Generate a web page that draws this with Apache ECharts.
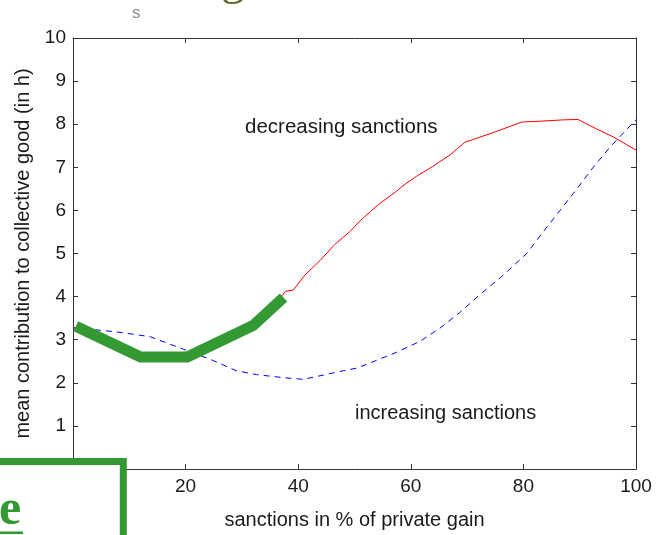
<!DOCTYPE html>
<html>
<head>
<meta charset="utf-8">
<script src="https://cdn.jsdelivr.net/npm/echarts@6/dist/echarts.min.js"></script>
<style>
  html, body { margin: 0; padding: 0; background: #ffffff; }
  #chart { width: 656px; height: 535px; }
</style>
</head>
<body>
<div id="chart"></div>
<script>
// Mean contribution to the collective good against sanction level
const xTicks = [0, 20, 40, 60, 80, 100];
const yTicks = [0, 1, 2, 3, 4, 5, 6, 7, 8, 9, 10];

// Decreasing sanctions (red, solid)
const decreasingX = [0, 6, 12, 16, 20, 26, 32, 35.5, 37.7, 39.1, 41.2, 43.9, 46.5, 49.2, 51.0, 52.8, 54.5, 57.2, 59.0, 61.0, 63.9, 67.0, 69.6, 72.3, 75.8, 79.7, 83.0, 87.0, 89.7, 93.0, 95.9, 100];
const decreasingY = [3.3, 2.95, 2.68, 2.62, 2.64, 2.98, 3.36, 3.75, 4.12, 4.15, 4.5, 4.84, 5.21, 5.51, 5.76, 5.97, 6.16, 6.42, 6.61, 6.79, 7.02, 7.29, 7.58, 7.70, 7.86, 8.05, 8.07, 8.10, 8.11, 7.89, 7.71, 7.40];

// Increasing sanctions (blue, dashed)
const increasingX = [0, 4, 7.8, 13.7, 19.6, 24.3, 29, 32.6, 37.3, 40.9, 44.5, 48.0, 50.4, 53.9, 57.5, 61.6, 65.2, 68.7, 72.3, 76, 80.6, 83.5, 86.5, 89.5, 92.4, 95.4, 99.5, 100];
const increasingY = [3.25, 3.23, 3.18, 3.07, 2.78, 2.55, 2.28, 2.19, 2.12, 2.08, 2.18, 2.28, 2.34, 2.52, 2.71, 2.96, 3.27, 3.63, 4.05, 4.45, 5.0, 5.5, 6.0, 6.5, 7.0, 7.47, 8.04, 8.1];

// Highlighted stretch of the low-sanction range (thick green)
const highlightX = [0.5, 12, 20.3, 32, 37.4];
const highlightY = [3.31, 2.6, 2.6, 3.33, 3.98];

const zip = (xs, ys) => xs.map((x, i) => [x, ys[i]]);

const FONT = '"Liberation Sans", Arial, sans-serif';
const SERIF = '"Liberation Serif", "Times New Roman", serif';
const AXIS = '#333333';
const TEXT = '#1a1a1a';
const GREEN = '#339933';

const chart = echarts.init(document.getElementById('chart'), null, { renderer: 'canvas' });

const baseX = {
  type: 'value', min: xTicks[0], max: xTicks[xTicks.length - 1], interval: 20,
  splitLine: { show: false },
  axisLine: { show: true, onZero: false, lineStyle: { color: AXIS, width: 1 } },
  axisTick: { show: true, inside: true, length: 5, lineStyle: { color: AXIS } }
};
const baseY = {
  type: 'value', min: yTicks[0], max: yTicks[yTicks.length - 1], interval: 1,
  splitLine: { show: false },
  axisLine: { show: true, onZero: false, lineStyle: { color: AXIS, width: 1 } },
  axisTick: { show: true, inside: true, length: 5, lineStyle: { color: AXIS } }
};

chart.setOption({
  animation: false,
  backgroundColor: '#ffffff',
  grid: { left: 73, right: 20, top: 38, bottom: 54, containLabel: false },
  xAxis: [
    Object.assign({}, baseX, {
      position: 'bottom',
      axisLabel: { color: TEXT, fontSize: 19, fontFamily: FONT, margin: 8 },
      name: 'sanctions in % of private gain',
      nameLocation: 'middle', nameGap: 41,
      nameTextStyle: { color: TEXT, fontSize: 20, fontFamily: FONT }
    }),
    Object.assign({}, baseX, { position: 'top', axisLabel: { show: false } })
  ],
  yAxis: [
    Object.assign({}, baseY, {
      position: 'left',
      axisLabel: { color: TEXT, fontSize: 19, fontFamily: FONT, margin: 7 },
      name: 'mean contribution to collective good (in h)',
      nameLocation: 'middle', nameGap: 32, nameRotate: 90,
      nameTextStyle: { color: TEXT, fontSize: 20, fontFamily: FONT }
    }),
    Object.assign({}, baseY, { position: 'right', axisLabel: { show: false } })
  ],
  series: [
    {
      name: 'decreasing sanctions', type: 'line', xAxisIndex: 0, yAxisIndex: 0,
      data: zip(decreasingX, decreasingY), showSymbol: false, symbol: 'none',
      lineStyle: { color: '#ff0000', width: 1 }, z: 3
    },
    {
      name: 'increasing sanctions', type: 'line', xAxisIndex: 0, yAxisIndex: 0,
      data: zip(increasingX, increasingY), showSymbol: false, symbol: 'none',
      lineStyle: { color: '#0000ff', width: 1, type: [6, 5] }, z: 3
    },
    {
      name: 'highlight', type: 'line', xAxisIndex: 0, yAxisIndex: 0,
      data: zip(highlightX, highlightY), showSymbol: false, symbol: 'none',
      lineStyle: { color: GREEN, width: 11, cap: 'butt', join: 'miter' }, z: 5
    }
  ],
  graphic: [
    {
      type: 'text', left: 245, top: 117, z: 10,
      style: { text: 'decreasing sanctions', fill: TEXT, font: '20.5px ' + FONT }
    },
    {
      type: 'text', left: 355, top: 403, z: 10,
      style: { text: 'increasing sanctions', fill: TEXT, font: '20px ' + FONT }
    },
    // slide fragments around the figure
    {
      type: 'text', x: 132, y: 5, z: 10,
      style: { text: 's', fill: '#8a8a8a', font: '17px ' + FONT }
    },
    {
      type: 'text', x: 221, y: 5, z: 10,
      style: { text: 'g', fill: '#666633', font: '48px ' + SERIF, verticalAlign: 'bottom' }
    },
    {
      type: 'rect', z: 20,
      shape: { x: -10, y: 461.5, width: 133.3, height: 100 },
      style: { fill: '#ffffff', stroke: GREEN, lineWidth: 7 }
    },
    {
      type: 'text', x: -1, y: 486, z: 21,
      style: { text: 'e', fill: GREEN, font: 'bold 50px ' + SERIF }
    },
    {
      type: 'rect', z: 21,
      shape: { x: 0, y: 531.5, width: 23, height: 2.5 },
      style: { fill: GREEN }
    }
  ]
});
</script>
</body>
</html>
